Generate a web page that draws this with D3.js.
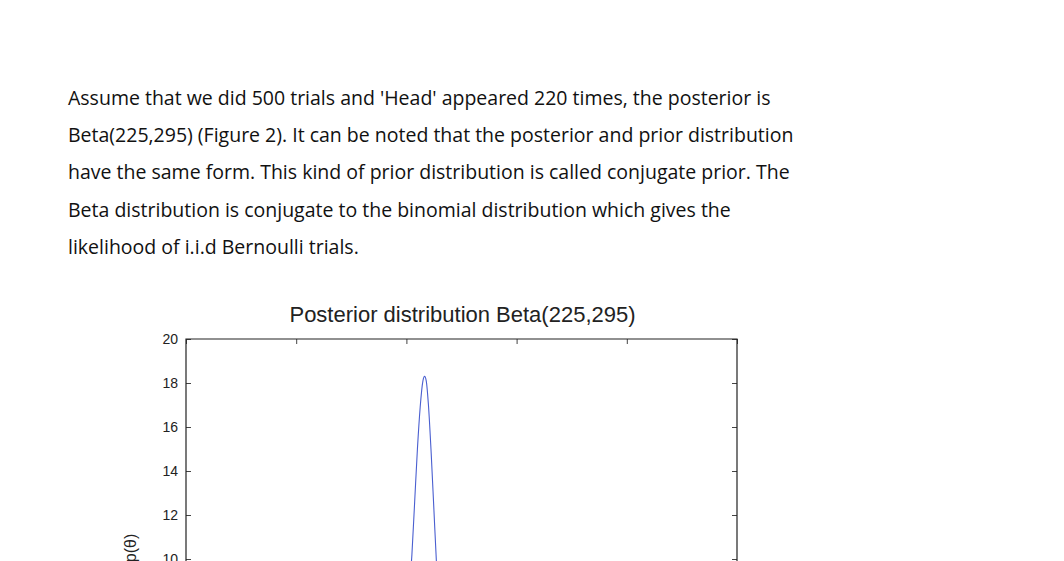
<!DOCTYPE html>
<html>
<head>
<meta charset="utf-8">
<script src="https://cdn.jsdelivr.net/npm/d3@7"></script>
<style>
body { margin: 0; background: #fff; overflow: hidden; }
svg { display: block; }
</style>
</head>
<body>
<svg></svg>
<script>
const paragraph = [
    "Assume that we did 500 trials and 'Head' appeared 220 times, the posterior is",
    "Beta(225,295) (Figure 2). It can be noted that the posterior and prior distribution",
    "have the same form. This kind of prior distribution is called conjugate prior. The",
    "Beta distribution is conjugate to the binomial distribution which gives the",
    "likelihood of i.i.d Bernoulli trials."
];
const chartTitle = "Posterior distribution Beta(225,295)";
const yTicks = [10, 12, 14, 16, 18, 20];
const xTicks = [0, 0.2, 0.4, 0.6, 0.8, 1];
// curve points (theta, density)
const theta = [0.36, 0.39, 0.40, 0.405, 0.41, 0.415, 0.42, 0.425, 0.43, 0.433, 0.436, 0.44, 0.445, 0.45, 0.455, 0.46, 0.465, 0.47, 0.48, 0.51];
const density = [0.6, 4.5, 6.8, 8.3, 10.2, 12.6, 15.0, 16.9, 18.1, 18.3, 18.1, 17.0, 14.8, 12.2, 9.6, 7.3, 5.3, 3.6, 1.5, 0.05];

const width = 1064, height = 561;
const svg = d3.select("svg").attr("width", width).attr("height", height);

// document text
svg.append("g").selectAll("text")
    .data(paragraph)
    .enter()
    .append("text")
    .attr("x", 68)
    .attr("y", (d, i) => 105 + i * 37.2)
    .style("font-family", "'Open Sans', sans-serif")
    .style("font-size", "19.5px")
    .style("fill", "#111")
    .text(d => d);

// plot frame
const plotLeft = 186, plotRight = 737, plotTop = 339;
const scaleX = d3.scaleLinear().domain([0, 1]).range([plotLeft, plotRight]);
const scaleY = d3.scaleLinear().domain([20, 10]).range([plotTop, plotTop + 220]);

svg.append("text")
    .attr("x", (plotLeft + plotRight) / 2 + 1)
    .attr("y", 322)
    .attr("text-anchor", "middle")
    .style("font-family", "'Liberation Sans', Arial, sans-serif")
    .style("font-size", "22px")
    .style("fill", "#222")
    .text(chartTitle);

const axisFont = g => g.selectAll("text")
    .style("font-family", "'Liberation Sans', Arial, sans-serif")
    .style("font-size", "14px")
    .style("fill", "#222");

svg.append("g")
    .attr("transform", `translate(${plotLeft},0)`)
    .call(d3.axisLeft(scaleY).tickValues(yTicks).tickSize(-5).tickPadding(8))
    .call(g => g.select(".domain").remove())
    .call(axisFont);
svg.append("g")
    .attr("transform", `translate(${plotRight},0)`)
    .call(d3.axisRight(scaleY).tickValues(yTicks).tickSize(-5).tickFormat(""))
    .call(g => g.select(".domain").remove());
svg.append("g")
    .attr("transform", `translate(0,${plotTop})`)
    .call(d3.axisTop(scaleX).tickValues(xTicks).tickSize(-5).tickFormat(""))
    .call(g => g.select(".domain").remove());
svg.selectAll(".tick line").attr("stroke", "#444");

svg.append("path")
    .attr("d", `M${plotLeft},${height + 5}V${plotTop}H${plotRight}V${height + 5}`)
    .attr("fill", "none")
    .attr("stroke", "#222")
    .attr("stroke-width", 1.2);

// curve
const pts = theta.map((t, i) => [t, density[i]]);
svg.append("path")
    .datum(pts)
    .attr("d", d3.line().x(d => scaleX(d[0])).y(d => scaleY(d[1])).curve(d3.curveMonotoneX))
    .attr("fill", "none")
    .attr("stroke", "#4a5fd0")
    .attr("stroke-width", 1.1);

// y label
svg.append("text")
    .attr("transform", "translate(136,548) rotate(-90)")
    .attr("text-anchor", "middle")
    .style("font-family", "'Liberation Sans', Arial, sans-serif")
    .style("font-size", "16px")
    .style("fill", "#222")
    .text("p(θ)");
</script>
</body>
</html>
